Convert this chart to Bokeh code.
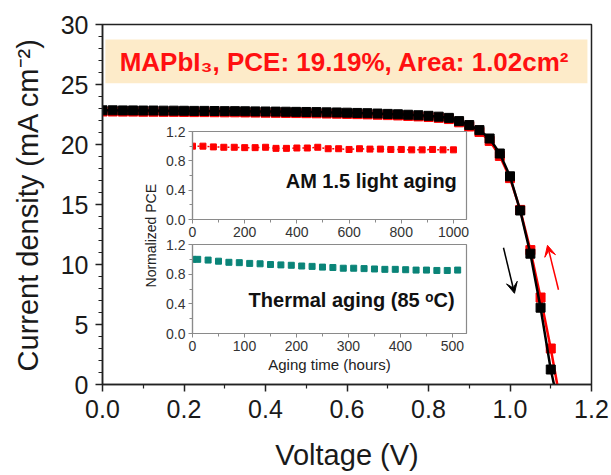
from math import pi
from bokeh.plotting import figure
from bokeh.models import (Range1d, Label, BoxAnnotation, Arrow, VeeHead,
                          FixedTicker, NumeralTickFormatter)
from bokeh.layouts import column
from bokeh.embed import file_html
from bokeh.resources import INLINE

# ---------------- data ----------------
voltage = [0.000, 0.025, 0.050, 0.075, 0.100, 0.125, 0.150, 0.175, 0.200,
           0.225, 0.250, 0.275, 0.300, 0.325, 0.350, 0.375, 0.400, 0.425,
           0.450, 0.475, 0.500, 0.525, 0.550, 0.575, 0.600, 0.625, 0.650,
           0.675, 0.700, 0.725, 0.750, 0.775, 0.800, 0.825, 0.850, 0.875,
           0.900, 0.925, 0.950, 0.975, 1.000, 1.025, 1.050, 1.075, 1.100]
j_reverse = [22.85, 22.85, 22.84, 22.84, 22.83, 22.83, 22.82, 22.82, 22.81,
             22.80, 22.80, 22.79, 22.78, 22.78, 22.77, 22.76, 22.75, 22.74,
             22.73, 22.72, 22.71, 22.70, 22.68, 22.67, 22.65, 22.63, 22.61,
             22.58, 22.55, 22.52, 22.48, 22.44, 22.39, 22.32, 22.22, 21.95,
             21.62, 21.20, 20.50, 19.25, 17.35, 14.50, 10.90, 6.40, 1.25]
j_forward = [22.75, 22.75, 22.74, 22.74, 22.73, 22.73, 22.72, 22.72, 22.71,
             22.70, 22.70, 22.69, 22.68, 22.68, 22.67, 22.66, 22.65, 22.64,
             22.63, 22.62, 22.61, 22.60, 22.58, 22.57, 22.55, 22.53, 22.51,
             22.48, 22.45, 22.42, 22.38, 22.34, 22.29, 22.22, 22.12, 21.85,
             21.50, 21.05, 20.30, 19.05, 17.20, 14.55, 11.20, 7.25, 3.00]
voc_reverse = 1.108
voc_forward = 1.116

light_hours = [0, 40, 80, 120, 160, 200, 240, 280, 320, 360, 400, 440, 480,
               520, 560, 600, 640, 680, 720, 760, 800, 840, 880, 920, 960, 1000]
light_pce = [1.00, 1.00, 0.99, 0.985, 0.985, 0.98, 0.98, 0.985, 0.97, 0.97,
             0.975, 0.975, 0.985, 0.965, 0.965, 0.955, 0.965, 0.96, 0.96,
             0.955, 0.955, 0.95, 0.95, 0.955, 0.95, 0.95]

thermal_hours = [0, 10, 30, 50, 70, 90, 110, 130, 150, 170, 190, 210, 230,
                 250, 270, 290, 310, 330, 350, 370, 390, 410, 430, 450, 470,
                 490, 510]
thermal_pce = [1.00, 1.00, 0.99, 0.975, 0.96, 0.955, 0.945, 0.94, 0.93, 0.925,
               0.92, 0.91, 0.905, 0.895, 0.89, 0.88, 0.88, 0.875, 0.87, 0.865,
               0.865, 0.86, 0.855, 0.855, 0.85, 0.85, 0.855]

x_major = [0.0, 0.2, 0.4, 0.6, 0.8, 1.0, 1.2]
x_minor = [0.1, 0.3, 0.5, 0.7, 0.9, 1.1]
y_major = [0, 5, 10, 15, 20, 25, 30]
y_minor = [1, 2, 3, 4, 6, 7, 8, 9, 11, 12, 13, 14, 16, 17, 18, 19, 21, 22,
           23, 24, 26, 27, 28, 29]
inset_y_major = [0.0, 0.4, 0.8, 1.2]
inset_y_minor = [0.2, 0.6, 1.0]
light_x_major = [0, 200, 400, 600, 800, 1000]
light_x_minor = [100, 300, 500, 700, 900]
thermal_x_major = [0, 100, 200, 300, 400, 500]
thermal_x_minor = [50, 150, 250, 350, 450]

title_text = "MAPbI\u2083, PCE: 19.19%, Area: 1.02cm\u00b2"
FONT = "Liberation Sans"

# ---------------- main figure ----------------
p = figure(width=611, height=475, x_range=Range1d(0, 1.2), y_range=Range1d(0, 30),
           output_backend="svg", toolbar_location=None,
           min_border_left=102, min_border_right=20, min_border_top=24,
           min_border_bottom=91)
p.grid.visible = False
p.outline_line_color = "#222222"
p.outline_line_width = 1.5
p.background_fill_color = "white"

for ax in (p.xaxis[0], p.yaxis[0]):
    ax.axis_line_color = "#222222"
    ax.axis_line_width = 1.5
    ax.major_tick_line_color = "#222222"
    ax.minor_tick_line_color = "#222222"
    ax.major_tick_line_width = 1.5
    ax.minor_tick_line_width = 1.2
    ax.major_tick_out = 7
    ax.major_tick_in = 0
    ax.minor_tick_out = 4
    ax.minor_tick_in = 0
    ax.major_label_text_font = FONT
    ax.major_label_text_font_size = "25px"
    ax.major_label_text_color = "#1a1a1a"
    ax.axis_label_text_font = FONT
    ax.axis_label_text_font_size = "29px"
    ax.axis_label_text_font_style = "normal"
    ax.axis_label_text_color = "#1a1a1a"

p.xaxis.ticker = FixedTicker(ticks=x_major, minor_ticks=x_minor)
p.yaxis.ticker = FixedTicker(ticks=y_major, minor_ticks=y_minor)
p.xaxis.formatter = NumeralTickFormatter(format="0.0")
p.xaxis.axis_label = "Voltage (V)"
p.yaxis.axis_label = "Current density (mA cm\u207b\u00b2)"
p.xaxis.major_label_standoff = 8
p.yaxis.major_label_standoff = 7
p.xaxis.axis_label_standoff = 18
p.yaxis.axis_label_standoff = 14

# title box
p.add_layout(BoxAnnotation(left=0.007, right=1.19, bottom=25.1, top=28.75,
                           fill_color="#FDEBC9", fill_alpha=1.0, line_alpha=0,
                           level="underlay"))
p.add_layout(Label(x=0.594, y=26.9, text=title_text, text_align="center",
                   text_baseline="middle", text_font=FONT, text_font_size="26px",
                   text_font_style="bold", text_color="#FF1010"))

# curves: forward (red) under reverse (black)
p.line(voltage + [voc_forward], j_forward + [0], line_color="#FF0000", line_width=2.5)
p.scatter(voltage, j_forward, marker="square", size=9, fill_color="#FF0000",
          line_color="#FF0000")
p.line(voltage + [voc_reverse], j_reverse + [0], line_color="black", line_width=2.5)
p.scatter(voltage, j_reverse, marker="square", size=9, fill_color="black",
          line_color="black")

# scan direction arrows
p.add_layout(Arrow(end=VeeHead(size=11, fill_color="black", line_color="black"),
                   x_start=0.984, y_start=11.4, x_end=1.011, y_end=7.6,
                   line_color="black", line_width=1.5))
p.add_layout(Arrow(end=VeeHead(size=11, fill_color="#FF0000", line_color="#FF0000"),
                   x_start=1.119, y_start=7.9, x_end=1.092, y_end=11.6,
                   line_color="#FF0000", line_width=1.5))

# shared inset y label
p.add_layout(Label(x=0.118, y=12.4, text="Normalized PCE", angle=pi / 2,
                   text_align="center", text_baseline="middle", text_font=FONT,
                   text_font_size="14px", text_color="#222222"))


def make_inset(xmax, xmaj, xmin, frame_h, bottom, xlabel=None):
    # borders of plots in one column are aligned by Bokeh, so they match the main plot
    f = figure(frame_width=274, frame_height=frame_h,
               x_range=Range1d(0, xmax), y_range=Range1d(0, 1.2),
               output_backend="svg", toolbar_location=None,
               min_border_left=102, min_border_right=20, min_border_top=6,
               min_border_bottom=bottom)
    f.grid.visible = False
    f.background_fill_alpha = 0
    f.border_fill_alpha = 0
    f.outline_line_color = "#8a8a8a"
    f.outline_line_width = 1.2
    for ax in (f.xaxis[0], f.yaxis[0]):
        ax.axis_line_color = "#8a8a8a"
        ax.axis_line_width = 1.2
        ax.major_tick_line_color = "#8a8a8a"
        ax.minor_tick_line_color = "#8a8a8a"
        ax.major_tick_out = 4
        ax.major_tick_in = 0
        ax.minor_tick_out = 3
        ax.minor_tick_in = 0
        ax.major_label_text_font = FONT
        ax.major_label_text_font_size = "14px"
        ax.major_label_text_color = "#333333"
        ax.major_label_standoff = 3
        ax.axis_label_text_font = FONT
        ax.axis_label_text_font_size = "15px"
        ax.axis_label_text_font_style = "normal"
        ax.axis_label_text_color = "#222222"
        ax.axis_label_standoff = 2
    f.xaxis.ticker = FixedTicker(ticks=xmaj, minor_ticks=xmin)
    f.yaxis.ticker = FixedTicker(ticks=inset_y_major, minor_ticks=inset_y_minor)
    f.yaxis.formatter = NumeralTickFormatter(format="0.0")
    if xlabel:
        f.xaxis.axis_label = xlabel
    return f


top = make_inset(1050, light_x_major, light_x_minor, 88, 28)
top.line(light_hours, light_pce, line_color="#FF0000", line_width=1.5, line_dash="2 3")
top.scatter(light_hours, light_pce, marker="square", size=6, fill_color="#FF0000",
            line_color="#FF0000")
top.add_layout(Label(x=685, y=0.52, text="AM 1.5 light aging", text_align="center",
                     text_baseline="middle", text_font=FONT, text_font_size="20px",
                     text_font_style="bold", text_color="#111111"))

bot = make_inset(527, thermal_x_major, thermal_x_minor, 89, 50, "Aging time (hours)")
bot.scatter(thermal_hours, thermal_pce, marker="square", size=6, fill_color="#0A8478",
            line_color="#0A8478")
bot.add_layout(Label(x=306, y=0.445, text="Thermal aging (85 \u1d52C)", text_align="center",
                     text_baseline="middle", text_font=FONT, text_font_size="20px",
                     text_font_style="bold", text_color="#111111"))

top.styles = {"position": "absolute", "left": "90px", "top": "125px"}
bot.styles = {"position": "absolute", "left": "90px", "top": "238px"}

layout = column(p, top, bot, styles={"position": "relative"})

open("out.html", "w").write(file_html(layout, INLINE))
